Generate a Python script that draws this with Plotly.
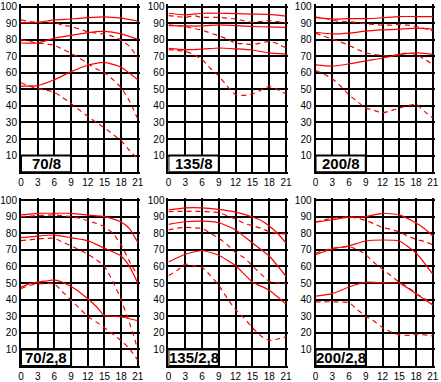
import plotly.graph_objects as go

# ---------------- data ----------------
X8 = [0, 3, 6, 9, 12, 15, 18, 21]
X15 = [0, 1.5, 3, 4.5, 6, 7.5, 9, 10.5, 12, 13.5, 15, 16.5, 18, 19.5, 21]
x_ticks = [0, 3, 6, 9, 12, 15, 18, 21]
y_ticks = [10, 20, 30, 40, 50, 60, 70, 80, 90, 100]
labels = ["70/8", "135/8", "200/8", "70/2,8", "135/2,8", "200/2,8"]

# 70/8
p1_s1_x = X8;  p1_s1 = [90.3, 90.5, 92, 92.5, 93.3, 93.8, 93, 91.3]
p1_d1_x = X15; p1_d1 = [92, 91, 90.5, 90.5, 90.3, 88.8, 87.9, 86.5, 84.8, 84, 83.3, 82, 79.8, 76, 69]
p1_s2_x = X8;  p1_s2 = [78, 78, 81, 82.6, 84.3, 85, 83.5, 80.2]
p1_d2_x = X15; p1_d2 = [80, 79, 78, 77.5, 76.7, 74.2, 71.8, 69, 65.5, 62.5, 60, 56, 51, 43, 32]
p1_s3_x = X8;  p1_s3 = [52, 52.3, 55.8, 60.7, 64.6, 66.3, 63.4, 55.8]
p1_d3_x = X15; p1_d3 = [54, 52, 50.5, 49.5, 48.3, 45, 41.5, 37.6, 33.7, 30.1, 26.8, 22.9, 19, 13.1, 8]

# 135/8
p2_s1_x = X8;  p2_s1 = [96, 95, 96, 96, 95.8, 95.5, 95.3, 94.3]
p2_d1_x = [0, 1.5, 3, 4.5, 6, 9, 12, 15, 16.5, 18, 19.5, 21]
p2_d1 = [94.5, 94, 93.5, 94.5, 93.5, 93.5, 92.5, 90.5, 91, 91.5, 91, 90]
p2_s2_x = X8;  p2_s2 = [88.5, 88.3, 88.3, 89, 88.5, 88, 87.7, 87.5]
p2_d2_x = X15; p2_d2 = [89, 88.5, 88, 86.8, 85.8, 84, 82.4, 80.4, 78, 77.5, 77, 78, 79, 77.5, 75]
p2_s3_x = X8;  p2_s3 = [74.8, 74, 74.3, 75, 74.5, 73.8, 72, 71.3]
p2_d3_x = X15; p2_d3 = [74, 73.5, 73, 71, 68, 62.6, 58, 52, 46.8, 46.4, 47.2, 49.5, 51.8, 49.8, 47.2]

# 200/8
p3_s1_x = X8;  p3_s1 = [93.3, 92.5, 92.7, 92.7, 93.3, 94, 94, 94]
p3_d1_x = X15; p3_d1 = [93.7, 93, 91.7, 91, 90.8, 90.4, 89.6, 89.2, 88.8, 88.8, 89.2, 88.8, 88, 86.8, 85.3]
p3_s2_x = X8;  p3_s2 = [84.5, 83.5, 84, 85.2, 85.9, 86.4, 87, 86.4]
p3_d2_x = X15; p3_d2 = [84, 82.1, 80.4, 78.6, 76.6, 74.1, 72.1, 71.1, 70.5, 70.3, 71.3, 72, 71.1, 68.2, 65.2]
p3_s3_x = X8;  p3_s3 = [64.8, 64, 65.4, 67.2, 68.8, 71, 72, 71.2]
p3_d3_x = X15; p3_d3 = [61.3, 59.3, 56.4, 51.9, 46.6, 42.6, 38.7, 37.3, 35.8, 37.1, 38.7, 40.1, 41.1, 36.7, 32.8]

# 70/2,8
p4_s1_x = [0, 3, 6, 9, 12, 15, 16.5, 18, 19.5, 21]
p4_s1 = [91, 92, 92, 92, 91, 90, 88.6, 86.7, 82.8, 74.5]
p4_d1_x = X15; p4_d1 = [90, 90.3, 90.6, 90.8, 91, 90.5, 90, 89, 87.5, 86, 84, 80, 73, 63, 54.4]
p4_s2_x = [0, 3, 6, 9, 12, 15, 18, 19.5, 21]
p4_s2 = [77.3, 78.3, 78.9, 77.3, 75.5, 71, 66.3, 60, 49.9]
p4_d2_x = X15; p4_d2 = [75.5, 76, 76.5, 76.9, 76.9, 74.6, 72.4, 70, 67.3, 64.2, 60, 51, 40, 26, 10]
p4_s3_x = X15; p4_s3 = [47.5, 49.5, 50.5, 51.2, 51.9, 50.5, 47.9, 44.6, 40.5, 36, 30.3, 30, 29.8, 28.5, 27.4]
p4_d3_x = X15; p4_d3 = [46.6, 48.5, 49.5, 49.7, 49.5, 44.6, 39.7, 34.8, 29.9, 26.6, 23.1, 19.2, 15.3, 10.4, 3.5]

# 135/2,8
p5_s1_x = [0, 3, 6, 9, 12, 15, 16.5, 18, 19.5, 21]
p5_s1 = [94, 95.3, 95.3, 94.3, 92.7, 89.8, 87.8, 84.3, 80, 74]
p5_d1_x = X15; p5_d1 = [93, 93.1, 93.1, 93.1, 93.1, 92.8, 92.4, 90.5, 88.5, 86, 84.5, 83, 81, 80, 79.5]
p5_s2_x = X8;  p5_s2 = [85.3, 86.9, 87.3, 86.3, 82, 74.1, 66.3, 54]
p5_d2_x = X15; p5_d2 = [82, 83, 83.5, 83.3, 82.9, 80, 77, 73.1, 68.2, 65.3, 60.4, 55.5, 51, 50, 49.6]
p5_s3_x = X8;  p5_s3 = [62.7, 67.3, 69.6, 66.7, 60.4, 50.6, 45.7, 37.3]
p5_d3_x = X15; p5_d3 = [54.5, 57.5, 61.4, 60.4, 59.4, 54.5, 48.6, 40.8, 33.9, 29, 23.1, 18.2, 15.3, 16.3, 17.6]

# 200/2,8
p6_s1_x = [0, 3, 6, 9, 12, 15, 18, 19.5, 21]
p6_s1 = [86.7, 88.1, 89.6, 90, 92, 91, 86.1, 82.8, 78.3]
p6_d1_x = X15; p6_d1 = [86.7, 88, 89, 89.5, 90, 89, 87.7, 85.7, 83.4, 82.4, 80.8, 78.3, 76.3, 75, 73]
p6_s2_x = X8;  p6_s2 = [67.1, 70.5, 72.4, 75.3, 75.9, 75.3, 68.1, 55.4]
p6_d2_x = X15; p6_d2 = [68.1, 69.5, 71, 71.5, 72, 70, 67.1, 62.2, 58.3, 54.4, 50.5, 47.6, 43.6, 40.7, 36.8]
p6_s3_x = X8;  p6_s3 = [42.1, 43.6, 47.6, 50.5, 50.1, 49.9, 43.6, 36.8]
p6_d3_x = X15; p6_d3 = [38.7, 38.7, 38.7, 38.5, 38.2, 33.9, 30, 27, 23.1, 20.5, 18.8, 18.5, 19.2, 18.8, 18.2]

panels = [
    [(p1_s1_x, p1_s1, "solid"), (p1_d1_x, p1_d1, "dash"), (p1_s2_x, p1_s2, "solid"),
     (p1_d2_x, p1_d2, "dash"), (p1_s3_x, p1_s3, "solid"), (p1_d3_x, p1_d3, "dash")],
    [(p2_s1_x, p2_s1, "solid"), (p2_d1_x, p2_d1, "dash"), (p2_s2_x, p2_s2, "solid"),
     (p2_d2_x, p2_d2, "dash"), (p2_s3_x, p2_s3, "solid"), (p2_d3_x, p2_d3, "dash")],
    [(p3_s1_x, p3_s1, "solid"), (p3_d1_x, p3_d1, "dash"), (p3_s2_x, p3_s2, "solid"),
     (p3_d2_x, p3_d2, "dash"), (p3_s3_x, p3_s3, "solid"), (p3_d3_x, p3_d3, "dash")],
    [(p4_s1_x, p4_s1, "solid"), (p4_d1_x, p4_d1, "dash"), (p4_s2_x, p4_s2, "solid"),
     (p4_d2_x, p4_d2, "dash"), (p4_s3_x, p4_s3, "solid"), (p4_d3_x, p4_d3, "dash")],
    [(p5_s1_x, p5_s1, "solid"), (p5_d1_x, p5_d1, "dash"), (p5_s2_x, p5_s2, "solid"),
     (p5_d2_x, p5_d2, "dash"), (p5_s3_x, p5_s3, "solid"), (p5_d3_x, p5_d3, "dash")],
    [(p6_s1_x, p6_s1, "solid"), (p6_d1_x, p6_d1, "dash"), (p6_s2_x, p6_s2, "solid"),
     (p6_d2_x, p6_d2, "dash"), (p6_s3_x, p6_s3, "solid"), (p6_d3_x, p6_d3, "dash")],
]

# ---------------- layout geometry (pixels) ----------------
W, H = 441, 382
cols = [(17.3, 136.3), (167.5, 287.2), (317.3, 436.7)]   # px of x=0, x=21
rows = [(173.7, 3.7), (372.8, 202.3)]                     # px of y=0, y=100
XMAX, YMAX = 21.4, 101.5

fig = go.Figure()
layout = dict(width=W, height=H, autosize=False, margin=dict(l=0, r=0, t=0, b=0, pad=0),
              paper_bgcolor="white", plot_bgcolor="white", showlegend=False)
shapes, annotations = [], []

tickfont = dict(family="Liberation Sans, Arial, sans-serif", size=10, color="black")

for i, series in enumerate(panels):
    r, c = divmod(i, 3)
    a, b = cols[c]
    p = (b - a) / 21
    y0, y100 = rows[r]
    q = (y0 - y100) / 100
    xd = [a / W, min(1.0, (a + XMAX * p) / W)]
    yd = [(H - y0) / H, min(1.0, (H - (y0 - YMAX * q)) / H)]
    n = "" if i == 0 else str(i + 1)
    xa, ya = "x" + n, "y" + n
    layout["xaxis" + n] = dict(domain=xd, range=[0, XMAX], anchor=ya, tickvals=x_ticks,
                               showgrid=True, gridcolor="black", gridwidth=2,
                               showline=True, linecolor="black", linewidth=2,
                               zeroline=False, ticks="", tickfont=tickfont, fixedrange=True)
    layout["yaxis" + n] = dict(domain=yd, range=[0, YMAX], anchor=xa, tickvals=y_ticks,
                               showgrid=True, gridcolor="black", gridwidth=2,
                               showline=True, linecolor="black", linewidth=2,
                               zeroline=False, ticks="", tickfont=tickfont, fixedrange=True)
    for xs, ys, dash in series:
        fig.add_trace(go.Scatter(x=xs, y=ys, mode="lines", xaxis=xa, yaxis=ya,
                                 line=dict(color="#ff0000", width=1.2,
                                           dash="5px,4px" if dash == "dash" else "solid",
                                           shape="spline", smoothing=0.5),
                                 hoverinfo="skip"))
    shapes.append(dict(type="rect", xref=xa, yref=ya, x0=0, x1=9, y0=0, y1=10,
                       fillcolor="white", line=dict(color="black", width=2), layer="between"))
    annotations.append(dict(xref=xa, yref=ya, x=4.5, y=5, text="<b>" + labels[i] + "</b>",
                            showarrow=False, xanchor="center", yanchor="middle",
                            font=dict(family="Liberation Sans, Arial, sans-serif", size=15,
                                      color="black")))

layout["shapes"] = shapes
layout["annotations"] = annotations
fig.update_layout(**layout)
fig.write_html("out.html", config={"displayModeBar": False},
               post_script="document.body.style.margin='0';document.body.style.overflow='hidden';")
